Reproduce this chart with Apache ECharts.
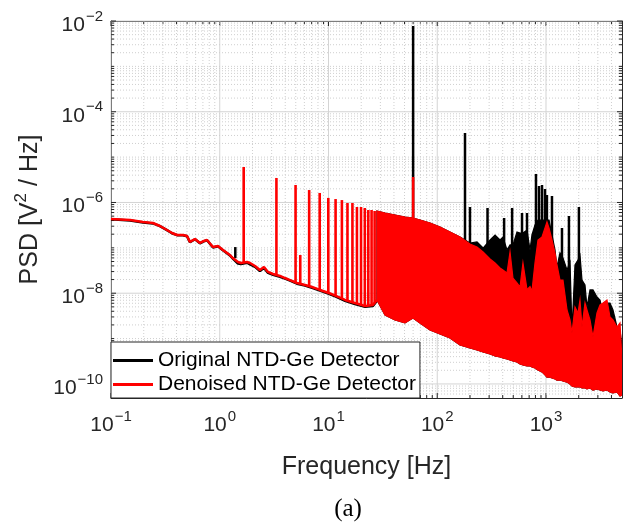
<!DOCTYPE html>
<html>
<head>
<meta charset="utf-8">
<title>PSD of NTD-Ge detector signal</title>
<script src="https://cdn.jsdelivr.net/npm/echarts@6/dist/echarts.min.js"></script>
<style>
  html, body { margin: 0; padding: 0; background: #fff; }
  #chart { width: 629px; height: 528px; }
</style>
</head>
<body>
<div id="chart"></div>
<script>
// ---------------- axis ranges and tick positions ----------------
const xRange = [0.1, 5000];
const yRange = [4.9e-11, 1e-2];
const xDecades = [0.1, 1, 10, 100, 1000];
const yLabelDecades = [1e-10, 1e-8, 1e-6, 1e-4, 1e-2];
const yOddDecades = [1e-9, 1e-7, 1e-5, 1e-3];
const subDecadeSteps = [2, 3, 4, 5, 6, 7, 8, 9];

// ---------------- low-frequency trace (0.1 Hz – 28 Hz) ----------------
const lowFreq = [0.1, 0.15, 0.197, 0.243, 0.282, 0.327, 0.364, 0.405, 0.459, 0.5,
  0.532, 0.592, 0.658, 0.716, 0.764, 0.867, 0.963, 1.07, 1.24, 1.32,
  1.47, 1.57, 1.78, 1.9, 2.11, 2.34, 2.55, 2.78, 3.09, 3.58,
  3.98, 4.43, 5.13, 6.08, 7.05, 8.35, 10.1, 11.7, 14.2, 17.5,
  21.7, 25.6, 27.9];
const denoisedLowPsd = [4.32e-7, 4.11e-7, 3.72e-7, 3.53e-7, 3.03e-7, 2.47e-7, 2.12e-7, 1.92e-7, 1.92e-7, 1.82e-7,
  1.35e-7, 1.57e-7, 1.28e-7, 1.42e-7, 1.49e-7, 1.04e-7, 1.10e-7, 8.97e-8, 6.95e-8, 5.97e-8,
  4.88e-8, 4.64e-8, 4.88e-8, 4.64e-8, 3.98e-8, 3.25e-8, 3.79e-8, 2.94e-8, 2.65e-8, 2.40e-8,
  2.16e-8, 1.95e-8, 1.68e-8, 1.52e-8, 1.37e-8, 1.18e-8, 1.01e-8, 8.7e-9, 7.1e-9, 6.08e-9,
  5.23e-9, 5.5e-9, 7.1e-9];
const originalLowPsd = [4.25e-7, 4.0e-7, 3.62e-7, 3.45e-7, 3.0e-7, 2.45e-7, 2.1e-7, 1.9e-7, 1.9e-7, 1.8e-7,
  1.33e-7, 1.55e-7, 1.26e-7, 1.4e-7, 1.47e-7, 1.02e-7, 1.08e-7, 8.8e-8, 6.8e-8, 5.8e-8,
  4.5e-8, 4.4e-8, 4.7e-8, 4.3e-8, 3.8e-8, 3.1e-8, 3.6e-8, 2.8e-8, 2.55e-8, 2.3e-8,
  2.1e-8, 1.9e-8, 1.62e-8, 1.48e-8, 1.32e-8, 1.15e-8, 9.7e-9, 8.4e-9, 6.8e-9, 5.8e-9,
  5.0e-9, 5.2e-9, 6.8e-9];

// ---------------- dense band (28 Hz – 5 kHz): envelopes ----------------
const bandFreq = [27.9, 33.1, 40.9, 50.5, 59.8, 69.4, 85.8, 106, 131, 162,
  200, 232, 264, 306, 340, 378, 402, 438, 467, 497,
  541, 577, 614, 669, 713, 743, 792, 844, 919, 979,
  1021, 1066, 1136, 1210, 1262, 1345, 1433, 1561, 1663, 1734,
  1848, 1969, 2054, 2143, 2284, 2382, 2539, 2705, 2944, 3138,
  3343, 3638, 3877, 4132, 4497, 4792, 5000];
const denoisedUpper = [6.49e-7, 5.86e-7, 5.30e-7, 4.79e-7, 4.55e-7, 4.11e-7, 3.53e-7, 2.88e-7, 2.24e-7, 1.73e-7,
  1.22e-7, 1.04e-7, 8.11e-8, 5.68e-8, 4.64e-8, 3.60e-8, 3.25e-8, 2.79e-8, 8.11e-8, 2.16e-8,
  1.68e-8, 1.37e-8, 4.64e-8, 1.2e-8, 1.4e-8, 1.1e-8, 4.64e-8, 1.49e-7, 1.73e-7, 2.74e-7,
  3.72e-7, 2.74e-7, 1.49e-7, 7.70e-8, 4.19e-8, 1.95e-8, 1.95e-8, 4.27e-9, 2.57e-9, 1.33e-9,
  4.97e-9, 3.66e-9, 7.1e-9, 1.80e-9, 6.08e-9, 4.27e-9, 2.57e-9, 1.08e-9, 3.66e-9, 5.5e-9,
  6.08e-9, 7.1e-9, 2.99e-9, 2.57e-9, 1.80e-9, 2.21e-9, 3.37e-10];
const originalUpper = [6.49e-7, 5.86e-7, 5.30e-7, 4.79e-7, 4.55e-7, 4.11e-7, 3.53e-7, 2.88e-7, 2.24e-7, 1.73e-7,
  1.28e-7, 1.35e-7, 9.9e-8, 1.49e-7, 1.92e-7, 1.49e-7, 1.73e-7, 8.97e-8, 1.16e-7, 1.16e-7,
  2.24e-7, 2.12e-7, 2.12e-7, 2.47e-7, 8.97e-8, 1.92e-7, 3.19e-7, 4.11e-7, 4.11e-7, 4.11e-7,
  4.11e-7, 4.11e-7, 1.92e-7, 8.97e-8, 3.79e-8, 7.70e-8, 5.97e-8, 3.25e-8, 4.88e-8, 1.5e-9,
  4.19e-8, 5.4e-8, 6.95e-8, 1.95e-8, 1.52e-8, 4.97e-9, 1.18e-8, 1.18e-8, 8.26e-9, 7.1e-9,
  3.66e-9, 6.08e-9, 6.08e-9, 4.27e-9, 1.80e-9, 1.55e-9, 6.53e-10];
const bandLower = [7.1e-9, 3.31e-9, 2.57e-9, 2.21e-9, 2.84e-9, 2.21e-9, 1.55e-9, 1.26e-9, 1.03e-9, 7.23e-10,
  6.21e-10, 5.61e-10, 5.06e-10, 4.57e-10, 4.13e-10, 3.93e-10, 3.73e-10, 3.55e-10, 3.37e-10, 3.21e-10,
  3.05e-10, 2.75e-10, 2.62e-10, 2.49e-10, 2.49e-10, 2.37e-10, 2.25e-10, 2.03e-10, 1.84e-10, 1.58e-10,
  1.42e-10, 1.42e-10, 1.35e-10, 1.29e-10, 1.22e-10, 1.22e-10, 1.16e-10, 1.10e-10, 9.98e-11, 9.0e-11,
  8.57e-11, 8.57e-11, 8.57e-11, 8.15e-11, 8.15e-11, 7.75e-11, 8.15e-11, 7.36e-11, 7.75e-11, 7.36e-11,
  7.0e-11, 7.36e-11, 6.65e-11, 6.32e-11, 6.65e-11, 5.43e-11, 5.71e-11];

// ---------------- narrow lines (spikes) ----------------
const denoisedSpikeFreq = [1.66, 3.32, 4.98, 5.5, 6.64, 8.3, 9.96, 11.62, 13.28, 14.94,
  16.6, 18.26, 19.92, 21.58, 23.24, 24.9, 26.56, 60];
const denoisedSpikeTop = [6.05e-6, 3.47e-6, 2.43e-6, 6.95e-8, 1.88e-6, 1.62e-6, 1.26e-6, 1.19e-6, 1.13e-6, 9.75e-7,
  9.75e-7, 7.94e-7, 7.94e-7, 7.55e-7, 6.82e-7, 6.82e-7, 6.49e-7, 3.65e-6];
const denoisedSpikeFoot = [4.7e-8, 2.5e-8, 1.72e-8, 1.6e-8, 1.45e-8, 1.19e-8, 1.02e-8, 8.8e-9, 7.6e-9, 6.8e-9,
  6.3e-9, 5.9e-9, 5.6e-9, 5.25e-9, 5.3e-9, 5.45e-9, 6.0e-9, 4.5e-7];

const originalSpikeFreq = [1.39, 60, 180, 200, 290, 412, 488, 602, 669, 809,
  862, 919, 979, 1020, 1135, 1403, 1626, 2008];
const originalSpikeTop = [1.04e-7, 7.76e-3, 3.40e-5, 7.94e-7, 7.55e-7, 4.55e-7, 7.55e-7, 5.86e-7, 5.86e-7, 4.25e-6,
  2.31e-6, 2.43e-6, 1.98e-6, 1.46e-6, 1.39e-6, 2.74e-7, 5.04e-7, 7.94e-7];
const originalSpikeFoot = [5.9e-8, 1e-8, 3e-9, 1e-9, 1e-9, 1e-9, 1e-9, 1e-9, 1e-9, 1e-9,
  1e-9, 1e-9, 1e-9, 1e-9, 1e-9, 1e-9, 1e-9, 1e-9];

// ---------------- styling ----------------
const FONT = '"Liberation Sans", Arial, Helvetica, sans-serif';
const INK = '#262626';
const RED = '#ff0000';
const BLACK = '#000000';
const NAME_ORIG = 'Original NTD-Ge Detector';
const NAME_DEN = 'Denoised NTD-Ge Detector';

// grid-line positions on the log axes
const xMinor = [];
xDecades.forEach(d => subDecadeSteps.forEach(s => { if (d * s < xRange[1]) xMinor.push(d * s); }));
const yMinor = yOddDecades.slice();
[1e-11, 1e-10, 1e-9, 1e-8, 1e-7, 1e-6, 1e-5, 1e-4, 1e-3].forEach(d =>
  subDecadeSteps.forEach(s => { const v = d * s; if (v > yRange[0] * 1.05 && v < yRange[1]) yMinor.push(v); }));

function powerLabel(value, evenOnly) {
  const e = Math.log10(value);
  const k = Math.round(e);
  if (Math.abs(e - k) > 1e-6) return '';
  if (evenOnly && k % 2 !== 0) return '';
  return '{b|10}{s|' + String(k).replace('-', '\u2212') + '}';
}
const labelRich = {
  b: { fontSize: 21, fontFamily: FONT, color: INK, lineHeight: 32 },
  s: { fontSize: 15, fontFamily: FONT, color: INK, lineHeight: 15, verticalAlign: 'top', padding: [0, 0, 0, 1] }
};

// vertical grid lines + ticks on bottom/top edges
function xRules(values, dotted, tickLen, color) {
  return {
    type: 'custom', silent: true, z: 1, clip: false,
    data: values.map(v => [v, 1e-6]),
    renderItem(params, api) {
      const cs = params.coordSys;
      const x = api.coord([api.value(0), api.value(1)])[0];
      const top = cs.y, bottom = cs.y + cs.height;
      return { type: 'group', children: [
        { type: 'line', shape: { x1: x, y1: top, x2: x, y2: bottom },
          style: { stroke: color, lineWidth: 1, lineDash: dotted ? [1, 2] : null } },
        { type: 'line', shape: { x1: x, y1: bottom, x2: x, y2: bottom - tickLen }, style: { stroke: INK, lineWidth: 1 } },
        { type: 'line', shape: { x1: x, y1: top, x2: x, y2: top + tickLen }, style: { stroke: INK, lineWidth: 1 } }
      ] };
    }
  };
}
// horizontal grid lines + ticks on left/right edges
function yRules(values, dotted, tickLen, color) {
  return {
    type: 'custom', silent: true, z: 1, clip: false,
    data: values.map(v => [1, v]),
    renderItem(params, api) {
      const cs = params.coordSys;
      const y = api.coord([api.value(0), api.value(1)])[1];
      const left = cs.x, right = cs.x + cs.width;
      return { type: 'group', children: [
        { type: 'line', shape: { x1: left, y1: y, x2: right, y2: y },
          style: { stroke: color, lineWidth: 1, lineDash: dotted ? [1, 2] : null } },
        { type: 'line', shape: { x1: left, y1: y, x2: left + tickLen, y2: y }, style: { stroke: INK, lineWidth: 1 } },
        { type: 'line', shape: { x1: right, y1: y, x2: right - tickLen, y2: y }, style: { stroke: INK, lineWidth: 1 } }
      ] };
    }
  };
}

// filled band between an upper and a lower envelope
function band(upper, color, z) {
  return {
    type: 'custom', silent: true, z: z, clip: true,
    data: bandFreq.map((f, i) => [f, upper[i], bandLower[i]]),
    encode: { x: 0, y: [1, 2] },
    renderItem(params, api) {
      if (params.dataIndex !== 0) return null;
      const pts = [];
      for (let i = 0; i < bandFreq.length; i++) pts.push(api.coord([bandFreq[i], upper[i]]));
      for (let i = bandFreq.length - 1; i >= 0; i--) pts.push(api.coord([bandFreq[i], bandLower[i]]));
      return { type: 'polygon', shape: { points: pts },
        style: { fill: color, stroke: color, lineWidth: 1.2, lineJoin: 'miter' } };
    }
  };
}

// vertical spectral lines from foot to top
function spikes(freq, foot, top, color, width, z) {
  return {
    type: 'custom', silent: true, z: z, clip: true,
    data: freq.map((f, i) => [f, foot[i], top[i]]),
    encode: { x: 0, y: [1, 2] },
    renderItem(params, api) {
      const a = api.coord([api.value(0), api.value(1)]);
      const b = api.coord([api.value(0), api.value(2)]);
      return { type: 'line', shape: { x1: a[0], y1: a[1], x2: b[0], y2: b[1] },
        style: { stroke: color, lineWidth: width } };
    }
  };
}

function trace(name, psd, color, z) {
  return {
    name: name, type: 'line', z: z, symbol: 'none', showSymbol: false, silent: true,
    data: lowFreq.map((f, i) => [f, psd[i]]),
    lineStyle: { color: color, width: 2.5 },
    itemStyle: { color: color }
  };
}

const chart = echarts.init(document.getElementById('chart'), null, { renderer: 'canvas' });
chart.setOption({
  animation: false,
  backgroundColor: '#ffffff',
  grid: { left: 111, right: 7, top: 21, bottom: 130, containLabel: false },
  xAxis: [{
    type: 'log', logBase: 10, min: xRange[0], max: xRange[1],
    name: 'Frequency [Hz]', nameLocation: 'middle', nameGap: 57,
    nameTextStyle: { fontFamily: FONT, fontSize: 25, color: INK },
    axisLine: { show: true, lineStyle: { color: INK, width: 1 } },
    axisTick: { show: false }, splitLine: { show: false }, minorTick: { show: false },
    axisLabel: { margin: 11, formatter: v => powerLabel(v, false), rich: labelRich, showMaxLabel: false }
  }, {
    type: 'log', logBase: 10, min: xRange[0], max: xRange[1], position: 'top',
    axisLine: { show: true, onZero: false, lineStyle: { color: INK, width: 1 } },
    axisTick: { show: false }, splitLine: { show: false }, axisLabel: { show: false }
  }],
  yAxis: [{
    type: 'log', logBase: 10, min: yRange[0], max: yRange[1],
    name: '{a|PSD [V}{s|2}{a| / Hz]}', nameLocation: 'middle', nameGap: 64, nameRotate: 90,
    nameTextStyle: { rich: {
      a: { fontFamily: FONT, fontSize: 25, color: INK, lineHeight: 34 },
      s: { fontFamily: FONT, fontSize: 17, color: INK, lineHeight: 17, verticalAlign: 'top' }
    } },
    axisLine: { show: true, lineStyle: { color: INK, width: 1 } },
    axisTick: { show: false }, splitLine: { show: false }, minorTick: { show: false },
    axisLabel: { margin: 8, padding: [8, 0, 0, 0], formatter: v => powerLabel(v, true), rich: labelRich, showMinLabel: false }
  }, {
    type: 'log', logBase: 10, min: yRange[0], max: yRange[1], position: 'right',
    axisLine: { show: true, onZero: false, lineStyle: { color: INK, width: 1 } },
    axisTick: { show: false }, splitLine: { show: false }, axisLabel: { show: false }
  }],
  legend: {
    data: [NAME_ORIG, NAME_DEN],
    orient: 'vertical', left: 111, top: 342, z: 20,
    icon: 'rect', itemWidth: 40, itemHeight: 3, itemGap: 3,
    padding: [8, 4, 3, 2],
    backgroundColor: '#ffffff', borderColor: INK, borderWidth: 1, borderRadius: 0,
    textStyle: { fontFamily: FONT, fontSize: 21, color: '#000' },
    selectedMode: false
  },
  graphic: [{
    type: 'text', x: 348, y: 509, silent: true,
    style: { text: '(a)', fontFamily: '"Liberation Serif", "DejaVu Serif", serif', fontSize: 25,
      fill: '#000', align: 'center', verticalAlign: 'middle' }
  }],
  series: [
    xRules(xMinor, true, 3, '#cfcfcf'),
    xRules(xDecades, false, 5, '#d4d4d4'),
    yRules(yMinor, true, 3, '#cfcfcf'),
    yRules(yLabelDecades, false, 5, '#d4d4d4'),
    band(originalUpper, BLACK, 2),
    spikes(originalSpikeFreq, originalSpikeFoot, originalSpikeTop, BLACK, 2.5, 3),
    trace(NAME_ORIG, originalLowPsd, BLACK, 3),
    band(denoisedUpper, RED, 4),
    spikes(denoisedSpikeFreq, denoisedSpikeFoot, denoisedSpikeTop, RED, 2.6, 5),
    trace(NAME_DEN, denoisedLowPsd, RED, 5)
  ]
});
</script>
</body>
</html>
